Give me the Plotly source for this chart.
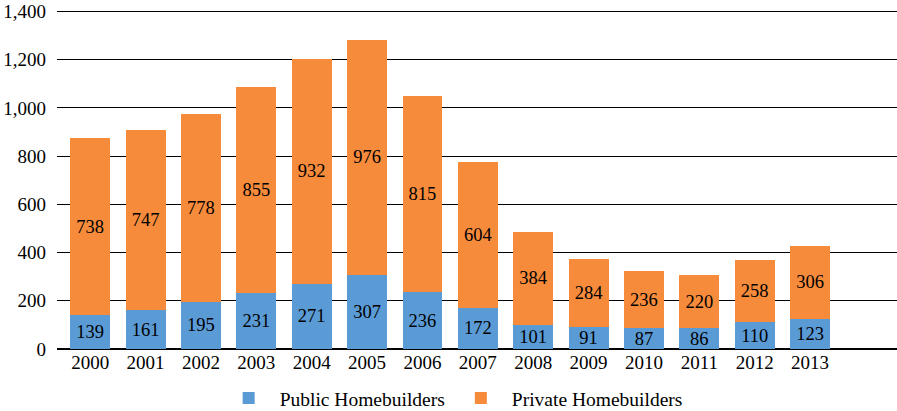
import plotly.graph_objects as go

years = ["2000", "2001", "2002", "2003", "2004", "2005", "2006", "2007",
         "2008", "2009", "2010", "2011", "2012", "2013"]
public = [139, 161, 195, 231, 271, 307, 236, 172, 101, 91, 87, 86, 110, 123]
private = [738, 747, 778, 855, 932, 976, 815, 604, 384, 284, 236, 220, 258, 306]
y_ticks = [0, 200, 400, 600, 800, 1000, 1200, 1400]
y_tick_labels = ["0", "200", "400", "600", "800", "1,000", "1,200", "1,400"]

FONT = "'Liberation Serif', 'Times New Roman', Times, 'DejaVu Serif', serif"
xs = list(range(len(years)))

fig = go.Figure()
fig.add_trace(go.Bar(
    x=xs, y=public, name="Public Homebuilders",
    marker=dict(color="#5B9BD5", line=dict(width=0)),
    text=[str(v) for v in public], textposition="inside",
    insidetextanchor="middle", textangle=0,
    insidetextfont=dict(family=FONT, size=18.5, color="black"),
    width=0.72,
))
fig.add_trace(go.Bar(
    x=xs, y=private, name="Private Homebuilders",
    marker=dict(color="#F68B3C", line=dict(width=0)),
    text=[str(v) for v in private], textposition="inside",
    insidetextanchor="middle", textangle=0,
    insidetextfont=dict(family=FONT, size=18.5, color="black"),
    width=0.72,
))

fig.update_layout(
    barmode="stack",
    width=897, height=411,
    margin=dict(l=57, r=0, t=9, b=62, autoexpand=False),
    paper_bgcolor="white", plot_bgcolor="white",
    font=dict(family=FONT, size=18, color="black"),
    uniformtext=dict(minsize=18, mode="show"),
    showlegend=True,
    legend=dict(orientation="h", x=0.471, xanchor="center", y=-0.145, yanchor="middle",
                font=dict(family=FONT, size=19.5), itemwidth=52, traceorder="normal",
                itemsizing="constant"),
    xaxis=dict(range=[-0.6, 14.57], tickmode="array", tickvals=xs, ticktext=years,
               showgrid=False, zeroline=False, showline=False, ticks="",
               tickfont=dict(family=FONT, size=19)),
    yaxis=dict(range=[0, 1410], tickmode="array", tickvals=y_ticks, ticktext=y_tick_labels,
               showgrid=True, gridcolor="black", gridwidth=1, zeroline=True,
               zerolinecolor="black", zerolinewidth=1.5, showline=False, ticks="",
               ticklabelstandoff=10, tickfont=dict(family=FONT, size=19)),
)

fig.write_html("out.html", config={"displayModeBar": False},
               post_script="document.body.style.margin='0';document.body.style.padding='0';")
